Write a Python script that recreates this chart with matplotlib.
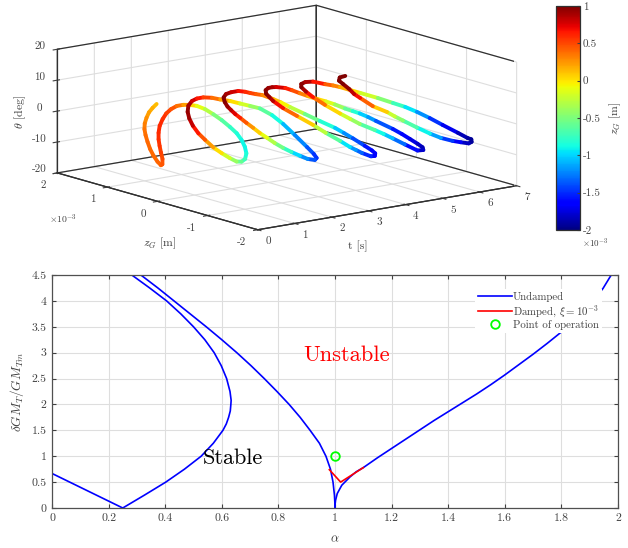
import numpy as np
import matplotlib
matplotlib.use('Agg')
import matplotlib.pyplot as plt
from matplotlib.colors import Normalize
from mpl_toolkits.mplot3d.art3d import Line3DCollection

plt.rcParams['font.family'] = ['cmr10', 'DejaVu Serif']
plt.rcParams['mathtext.fontset'] = 'cm'
plt.rcParams['axes.formatter.use_mathtext'] = True
plt.rcParams['axes.unicode_minus'] = False
plt.rcParams['grid.color'] = '#dedede'
plt.rcParams['grid.linewidth'] = 0.8
plt.rcParams['axes.edgecolor'] = '#303030'
plt.rcParams['axes.linewidth'] = 0.9
plt.rcParams['text.color'] = '#404040'
plt.rcParams['axes.labelcolor'] = '#404040'
plt.rcParams['xtick.color'] = '#404040'
plt.rcParams['ytick.color'] = '#404040'

# top plot, trajectory (z_g in 1e-3 m)
t_s = [.11,.07,.04,.04,.06,.12,.19,.27,.34,.43,.54,.66,.74,.77,.77,.8,.8,.84,.87,.95,.98,1.04,1.09,1.1,1.08,.99,
       1.01,.97,.95,.98,1.03,1.08,1.14,1.21,1.31,1.39,1.46,1.55,1.63,1.67,1.76,1.85,1.97,2.05,2.1,2.08,2.08,2.04,2.05,2.08,2.1,2.12,2.12,2.09,2.09,
       2.08,2.04,2.15,2.28,2.26,2.27,2.29,2.3,2.36,2.44,2.51,2.6,2.69,2.74,2.79,2.88,2.98,3.05,3.07,3.11,3.13,3.14,3.11,3.14,3.17,3.22,3.25,3.3,3.37,3.39,3.41,3.38,3.44,3.44,3.51,3.52,3.52,3.57,3.6,3.61,3.6,3.6,3.63,3.67,3.71,3.85,3.94,4.07,4.11,4.14,4.21,4.24,4.29,4.25,4.28,4.32,4.36,4.4,4.38,4.39,4.41,4.45,4.49,4.46,4.39,4.33,4.18,4.2,4.21,4.33,4.44,4.52,4.62,4.66,4.68,4.66,4.72,4.8,4.8,4.79,4.79,4.8,4.8,4.8,4.95,5.07,5.2,5.24,5.24,5.29,5.21,5.25,5.27,5.34,5.41,5.48,5.55,5.54,5.59,5.53,5.54,5.68,5.81,5.87,5.85,5.84,5.83,5.81,5.9,6.01,5.93,5.89,5.94,6.07,6.16,6.29,6.33,6.4,6.37,6.26,6.28,6.43]
z_g = [.1,.15,.2,.25,.3,.35,.38,.4,.4,.4,.4,.42,.45,.47,.5,.55,.57,.6,.6,.6,.55,.5,.42,.3,.15,-.05,
       -.2,-.4,-.58,-.72,-.82,-.88,-.9,-.88,-.78,-.65,-.5,-.3,-.08,.12,.35,.55,.75,.88,.95,.92,.85,.72,.6,.45,.3,.12,-.08,-.3,-.5,
       -.75,-1.0,-1.15,-1.3,-1.45,-1.5,-1.45,-1.3,-1.1,-.87,-.65,-.42,-.2,-.02,.15,.35,.55,.7,.8,.9,.97,1.0,.93,.85,.73,.63,.55,.47,.4,.2,.05,-.15,-.4,-.7,-.95,-1.12,-1.3,-1.5,-1.62,-1.68,-1.68,-1.6,-1.4,-1.25,-1.1,-.8,-.45,-.1,.25,.55,.8,.9,1.0,.98,.95,.9,.85,.7,.55,.4,.25,.1,-.05,-.25,-.5,-.7,-.95,-1.1,-1.25,-1.5,-1.6,-1.7,-1.78,-1.85,-1.85,-1.75,-1.45,-1.15,-.97,-.8,-.5,-.3,-.1,.2,.55,.78,.97,1.0,.92,.8,.5,.37,.25,.1,-.05,-.35,-.6,-.85,-1.05,-1.35,-1.6,-1.8,-1.9,-1.93,-1.95,-1.9,-1.75,-1.6,-1.3,-1.0,-.8,-.55,-.35,-.1,.25,.6,.75,.9,1.0,1.0,1.0,1.0]
theta = [10.8,9.4,7.8,5.8,3.7,1.5,-.7,-3.1,-5.6,-7.9,-10.1,-11.6,-11.6,-10.0,-8.1,-6.2,-4.2,-2.3,-.1,1.9,3.9,5.4,6.7,7.6,8.3,9.1,
         8.7,8.0,7.0,5.4,3.7,1.7,-.5,-2.9,-5.4,-7.0,-7.8,-7.8,-7.4,-6.5,-5.3,-4.3,-3.0,-1.4,.3,2.5,4.3,5.8,6.7,7.2,7.3,7.6,7.7,8.0,8.1,
         7.1,5.5,2.4,-1.1,-2.6,-3.7,-4.6,-5.0,-5.0,-5.0,-4.8,-4.5,-4.0,-3.4,-2.6,-2.1,-1.6,-1.2,-.4,.2,1.3,2.6,4.1,5.0,5.9,6.0,5.9,5.8,5.7,5.3,4.8,4.3,3.1,2.2,1.0,.1,-.8,-2.4,-3.4,-4.1,-4.9,-5.4,-5.3,-5.1,-4.9,-4.6,-3.8,-3.1,-1.9,-.8,.2,1.0,1.5,2.8,3.6,4.0,4.2,4.5,4.5,4.2,3.9,3.6,3.4,3.4,3.4,3.6,4.3,3.8,3.2,1.5,.1,-1.2,-2.6,-3.5,-4.4,-5.0,-4.5,-4.1,-3.5,-3.0,-2.4,-1.7,-.9,.5,1.1,1.6,1.9,2.7,3.7,4.3,5.0,5.1,5.1,4.7,4.3,3.9,3.3,3.2,2.4,1.9,.8,-1.1,-2.6,-3.0,-3.7,-4.4,-4.7,-4.9,-5.5,-5.7,-4.5,-3.3,-3.0,-3.0,-2.9,-2.1,-1.6,-.8,.4,1.7,2.7,2.9]

t_ticks = [0, 1, 2, 3, 4, 5, 6, 7]
t_tick_labels = ['0', '1', '2', '3', '4', '5', '6', '7']
z_ticks = [-2, -1, 0, 1, 2]
z_tick_labels = ['-2', '-1', '0', '1', '2']
theta_ticks = [-20, -10, 0, 10, 20]
theta_tick_labels = ['-20', '-10', '0', '10', '20']
cbar_ticks = [-2, -1.5, -1, -0.5, 0, 0.5, 1]
cbar_tick_labels = ['-2', '-1.5', '-1', '-0.5', '0', '0.5', '1']

# bottom plot, stability curves
alpha_a = [0, 0.25]
gm_a = [0.667, 0]
alpha_b = [.25,.327,.402,.468,.527,.570,.604,.616,.624,.63,.632,.633,.629,.617,.598,.573,.54,.50,.455,.405,.345,.282]
gm_b = [0,.25,.5,.75,1.0,1.25,1.5,1.625,1.75,1.875,2.0,2.08,2.25,2.5,2.75,3.0,3.25,3.5,3.75,4.0,4.25,4.5]
alpha_c = [.314,.374,.431,.488,.545,.60,.653,.703,.75,.795,.838,.877,.912,.945,.968,.984,.993,.998,.9995,1.0]
gm_c = [4.5,4.25,4.0,3.75,3.5,3.25,3.0,2.75,2.5,2.25,2.0,1.75,1.5,1.25,1.0,.75,.5,.25,.1,0]
alpha_d = [1.0,1.0005,1.002,1.008,1.024,1.053,1.075,1.1,1.15,1.2,1.25,1.3,1.35,1.4,1.45,1.5,1.55,1.6,1.65,1.7,1.75,1.8,1.85,1.9,1.947,1.976]
gm_d = [0,.08,.15,.28,.44,.6,.7,.78,.97,1.15,1.33,1.51,1.69,1.86,2.03,2.2,2.38,2.57,2.77,2.97,3.18,3.4,3.65,3.92,4.24,4.5]
alpha_damped = [.98, 1.02, 1.1]
gm_damped = [.74, .5, .78]

W, H = 628, 548
fig = plt.figure(figsize=(6.28, 5.48), dpi=100)

def px_rect(left, top, right, bottom):
    return [left / W, 1 - bottom / H, (right - left) / W, (bottom - top) / H]

ax3 = fig.add_axes(px_rect(47.7, -109.2, 513.7, 356.8), projection='3d', proj_type='ortho')
ax3.patch.set_visible(False)
ax3.computed_zorder = False
ax3.set_box_aspect((328, 328, 127))
ax3.view_init(elev=12.68, azim=-127.74)
ax3.set_xlim(0, 7)
ax3.set_ylim(-2, 2)
ax3.set_zlim(-20, 20)

# box outline, the grid would paint over the pane edges otherwise
edge = dict(color='#303030', lw=0.9, zorder=1)
ax3.plot([0, 0, 7, 7, 0], [2, 2, 2, 2, 2], [-20, 20, 20, -20, -20], **edge)
ax3.plot([7, 7, 7, 7], [2, 2, -2, -2], [-20, 20, 20, -20], **edge)
ax3.plot([0, 0, 7, 7], [2, -2, -2, 2], [-20, -20, -20, -20], **edge)

pts = np.column_stack([t_s, z_g, theta])
segs = np.stack([pts[:-1], pts[1:]], axis=1)
z_mid = (np.array(z_g[:-1]) + np.array(z_g[1:])) / 2
norm = Normalize(-2, 1)
lc = Line3DCollection(segs, cmap='jet', norm=norm, linewidths=2.8, capstyle='round', zorder=5)
lc.set_array(z_mid)
ax3.add_collection3d(lc)

ax3.set_xticks(t_ticks)
ax3.set_xticklabels(t_tick_labels, ha='left')
ax3.set_yticks(z_ticks)
ax3.set_yticklabels(z_tick_labels, ha='right')
ax3.set_zticks(theta_ticks)
ax3.set_zticklabels(theta_tick_labels, va='baseline')
ax3.tick_params(labelsize=8, pad=0)
ax3.tick_params(axis='x', pad=-1.5)
ax3.tick_params(axis='z', pad=-1.3)
for axis in (ax3.xaxis, ax3.yaxis, ax3.zaxis):
    axis.pane.set_facecolor('white')
    axis.pane.set_edgecolor('white')

ax3.text2D(358 / W, 1 - 246 / H, 't [s]', transform=fig.transFigure, fontsize=8.5, ha='center', va='center')
ax3.text2D(160 / W, 1 - 243 / H, r'$z_G$ [m]', transform=fig.transFigure, fontsize=8.5, ha='center', va='center')
ax3.text2D(20 / W, 1 - 112 / H, r'$\theta$ [deg]', transform=fig.transFigure, fontsize=8.5, rotation=90, ha='center', va='center')
fig.text(49 / W, 1 - 219 / H, r'$\times 10^{-3}$', fontsize=7, va='center')

cax = fig.add_axes(px_rect(556, 6, 580, 230))
cbar = fig.colorbar(lc, cax=cax)
cbar.set_ticks(cbar_ticks)
cbar.set_ticklabels(cbar_tick_labels)
cbar.ax.tick_params(labelsize=8, length=2, pad=2, direction='in')
cbar.set_label(r'$z_G$ [m]', fontsize=8.5, labelpad=5)
fig.text(582 / W, 1 - 243 / H, r'$\times 10^{-3}$', fontsize=6.5, va='center')

ax = fig.add_axes(px_rect(52, 275, 618, 508))
blue = '#0000ff'
ax.plot(alpha_a, gm_a, color=blue, lw=1.2, label='Undamped')
ax.plot(alpha_b, gm_b, color=blue, lw=1.2)
ax.plot(alpha_c, gm_c, color=blue, lw=1.2)
ax.plot(alpha_d, gm_d, color=blue, lw=1.2)
ax.plot(alpha_damped, gm_damped, color='#ff0000', lw=1.2, label=r'Damped, $\xi = 10^{-3}$')
ax.plot([1], [1], 'o', mfc='none', mec='#00ff00', mew=1.3, ms=6.2, ls='none', label='Point of operation')
ax.set_xlim(0, 2)
ax.set_ylim(0, 4.5)
ax.set_xticks(np.arange(0, 2.01, 0.2))
ax.set_xticklabels(['0', '0.2', '0.4', '0.6', '0.8', '1', '1.2', '1.4', '1.6', '1.8', '2'])
ax.set_yticks(np.arange(0, 4.51, 0.5))
ax.set_yticklabels(['0', '0.5', '1', '1.5', '2', '2.5', '3', '3.5', '4', '4.5'])
ax.tick_params(direction='in', top=True, right=True, length=3, labelsize=8.5, pad=4)
ax.grid(True)
ax.set_axisbelow(True)
for s in ax.spines.values():
    s.set_color('#505050')
ax.set_xlabel(r'$\alpha$', fontsize=9, labelpad=7)
ax.set_ylabel(r'$\delta GM_T/GM_{Tm}$', fontsize=9.5, labelpad=4)
ax.text(1.04, 2.96, 'Unstable', color='#ff0000', fontsize=16.2, ha='center', va='center')
ax.text(0.64, 0.97, 'Stable', color='black', fontsize=16, ha='center', va='center')
leg = ax.legend(loc='upper right', bbox_to_anchor=(0.971, 0.94), fontsize=7.8, frameon=True, framealpha=1,
                edgecolor='none', fancybox=False, borderaxespad=0, labelspacing=0.12, handlelength=3.2, handletextpad=0.05, borderpad=0.25)

fig.savefig('out.png', dpi=100)
